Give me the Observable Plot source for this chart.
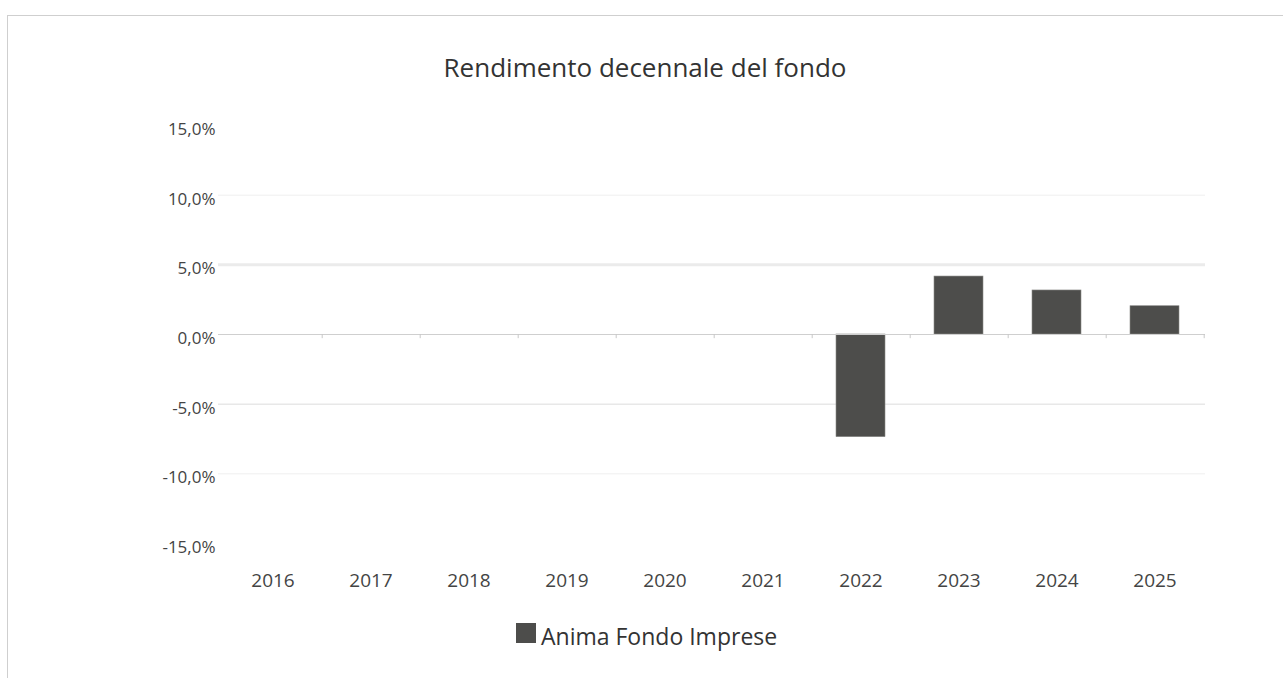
<!DOCTYPE html>
<html>
<head>
<meta charset="utf-8">
<script src="https://cdn.jsdelivr.net/npm/d3@7"></script>
<script src="https://cdn.jsdelivr.net/npm/@observablehq/plot@0.6"></script>
<style>
  html, body { margin: 0; padding: 0; background: #fff; }
  body { width: 1283px; height: 678px; position: relative; overflow: hidden; font-family: "Open Sans", sans-serif; }
  #frame { position: absolute; left: 7px; top: 15px; width: 1276px; height: 663px;
           border-top: 1px solid #cfcfcf; border-left: 1px solid #cfcfcf; box-sizing: border-box; }
  #title { position: absolute; left: 7px; width: 1276px; top: 54px; text-align: center;
           font-size: 26px; line-height: 26px; color: #333; }
  #chart { position: absolute; left: 0; top: 100px; }
  #legend { position: absolute; left: 516px; top: 623px; height: 22px; }
  #legend .sw { width: 20px; height: 20px; background: #4d4d4b; }
  #legend .lb { position: absolute; left: 25px; top: 2px; font-size: 23px; line-height: 23px; color: #333; white-space: nowrap; }
</style>
</head>
<body>
<div id="frame"></div>
<div id="title">Rendimento decennale del fondo</div>
<div id="chart"></div>
<div id="legend"><div class="sw"></div><div class="lb">Anima Fondo Imprese</div></div>
<script>
const years = ["2016","2017","2018","2019","2020","2021","2022","2023","2024","2025"];
const returns = [null, null, null, null, null, null, -7.37, 4.16, 3.16, 2.03];
const yTicks = [-15, -10, -5, 0, 5, 10, 15];
const seriesName = "Anima Fondo Imprese";

const data = years.map((y, i) => ({year: y, value: returns[i], series: seriesName}));
const fmt = d => d.toFixed(1).replace(".", ",") + "%";

const plot = Plot.plot({
  width: 1283,
  height: 520,
  marginLeft: 221,
  marginRight: 78,
  marginTop: 25,
  marginBottom: 77,
  style: {fontFamily: "'Open Sans', sans-serif", color: "#444", background: "transparent"},
  x: {type: "band", domain: years, paddingInner: 0.5, paddingOuter: 0.25, label: null},
  y: {domain: [-15, 15], label: null},
  marks: [
    Plot.ruleY([10], {stroke: "#efefef", strokeWidth: 1, insetLeft: -3}),
    Plot.ruleY([5], {stroke: "#ebebeb", strokeWidth: 3, insetLeft: -3}),
    Plot.ruleY([-5], {stroke: "#dcdcdc", strokeWidth: 1, insetLeft: -3}),
    Plot.ruleY([-10], {stroke: "#efefef", strokeWidth: 1, insetLeft: -3}),
    Plot.barY(data.filter(d => d.value != null), {x: "year", y: "value", fill: "#4d4d4b", stroke: "#8a8a88", strokeWidth: 0.6}),
    Plot.ruleY([0], {stroke: "#cfcfcf", strokeWidth: 1, insetLeft: -3}),
    Plot.ruleX(years, {x: d => d, y1: 0, y2: -0.3, dx: 49.2, stroke: "#c8c8c8"}),
    Plot.axisY({ticks: yTicks, tickSize: 0, tickPadding: 6, tickFormat: fmt, fontSize: 17, dy: 4, fill: "#444",
                style: {letterSpacing: "2px"}}),
    Plot.axisX({tickSize: 0, tickPadding: 30, fontSize: 19, fill: "#444", label: null})
  ]
});
document.getElementById("chart").appendChild(plot);
</script>
</body>
</html>
